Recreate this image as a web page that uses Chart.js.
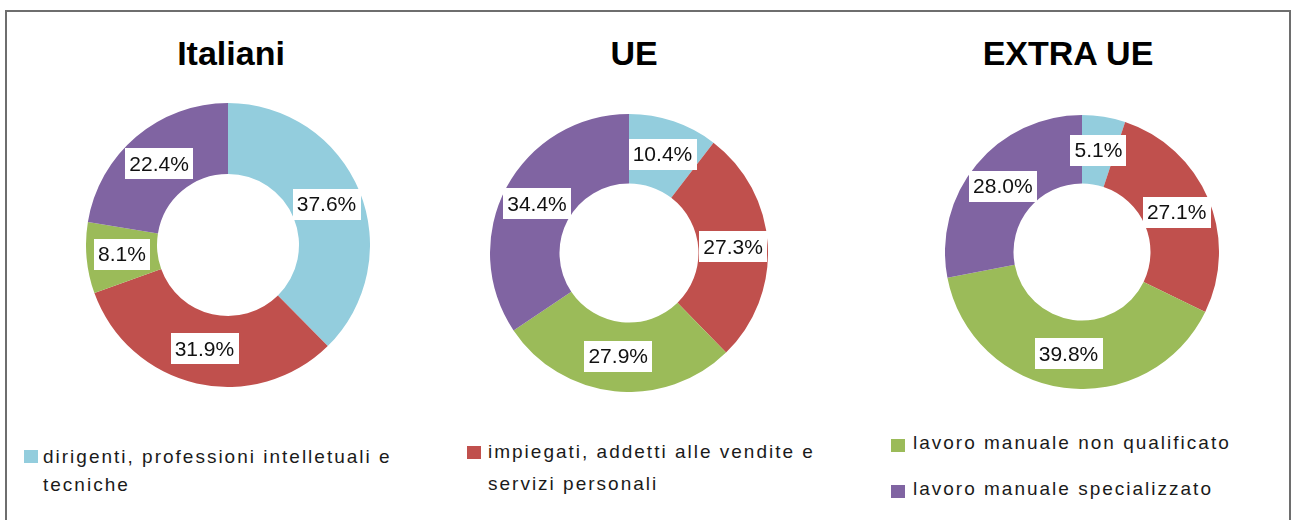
<!DOCTYPE html>
<html>
<head>
<meta charset="utf-8">
<script src="https://cdn.jsdelivr.net/npm/chart.js@4/dist/chart.umd.min.js"></script>
<style>
  html, body { margin: 0; padding: 0; background: #fff; }
  body { width: 1293px; height: 520px; position: relative; overflow: hidden; font-family: "Liberation Sans", Arial, sans-serif; }
  #frame { position: absolute; left: 5px; top: 10px; width: 1286px; height: 530px; border: 2px solid #6e6e6e; box-sizing: border-box; }
  .title { position: absolute; font-weight: bold; font-size: 34px; color: #000; transform: translateX(-50%); white-space: nowrap; line-height: 1; }
  .cv { position: absolute; }
  .leg { position: absolute; font-size: 19px; color: #1a1a1a; letter-spacing: 2px; }
  .leg .sw { position: absolute; width: 14px; height: 13px; }
  .leg .tx { position: absolute; white-space: nowrap; }
</style>
</head>
<body>
<div id="frame"></div>
<script>
// ---- data ----
const categories = [
  "dirigenti, professioni intelletuali e\ntecniche",
  "impiegati, addetti alle vendite e\nservizi personali",
  "lavoro manuale non qualificato",
  "lavoro manuale specializzato"
];
const chartTitles = ["Italiani", "UE", "EXTRA UE"];
const italiani = [37.6, 31.9, 8.1, 22.4];
const ue = [10.4, 27.3, 27.9, 34.4];
const extraUe = [5.1, 27.1, 39.8, 28.0];

// ---- styles / layout ----
const colors = ["#93CDDD", "#C0504D", "#9BBB59", "#8064A2"];
const seriesList = [italiani, ue, extraUe];
const layout = [
  { left: 86, top: 103, size: 284, titleX: 231, titleY: 43 },
  { left: 490, top: 114, size: 278, titleX: 634, titleY: 43 },
  { left: 945, top: 115, size: 274, titleX: 1068, titleY: 43 }
];

const labelPlugin = {
  id: 'boxLabels',
  afterDatasetsDraw(chart) {
    const ctx = chart.ctx;
    const meta = chart.getDatasetMeta(0);
    const data = chart.data.datasets[0].data;
    ctx.save();
    ctx.font = '21px "Liberation Sans", Arial, sans-serif';
    ctx.textAlign = 'center';
    ctx.textBaseline = 'middle';
    meta.data.forEach((arc, i) => {
      const p = arc.getProps(['x', 'y', 'startAngle', 'endAngle', 'innerRadius', 'outerRadius'], true);
      const a = (p.startAngle + p.endAngle) / 2;
      const r = (p.innerRadius + p.outerRadius) / 2;
      const x = p.x + Math.cos(a) * r;
      const y = p.y + Math.sin(a) * r;
      const txt = data[i].toFixed(1) + '%';
      const w = ctx.measureText(txt).width + 8;
      const h = 31;
      ctx.fillStyle = '#ffffff';
      ctx.fillRect(Math.round(x - w / 2), Math.round(y - h / 2), Math.round(w), h);
      ctx.fillStyle = '#111111';
      ctx.fillText(txt, x, y + 1);
    });
    ctx.restore();
  }
};

seriesList.forEach((vals, k) => {
  const L = layout[k];
  const t = document.createElement('div');
  t.className = 'title';
  t.style.left = L.titleX + 'px';
  t.style.top = (L.titleY - 7) + 'px';
  t.textContent = chartTitles[k];
  document.body.appendChild(t);

  const c = document.createElement('canvas');
  c.className = 'cv';
  c.width = L.size; c.height = L.size;
  c.style.left = L.left + 'px'; c.style.top = L.top + 'px';
  c.style.width = L.size + 'px'; c.style.height = L.size + 'px';
  document.body.appendChild(c);

  new Chart(c, {
    type: 'doughnut',
    data: {
      labels: categories,
      datasets: [{ data: vals, backgroundColor: colors, borderWidth: 0 }]
    },
    options: {
      responsive: false,
      animation: false,
      cutout: '50%',
      layout: { padding: 0 },
      plugins: { legend: { display: false }, tooltip: { enabled: false } }
    },
    plugins: [labelPlugin]
  });
});

// ---- legend ----
const legendPos = [
  { sw: [24, 450], tx: [43, 446], lh: 28 },
  { sw: [467, 446], tx: [488, 441], lh: 32 },
  { sw: [891, 439], tx: [913, 432], lh: 0 },
  { sw: [891, 485], tx: [913, 478], lh: 0 }
];
categories.forEach((cat, i) => {
  const P = legendPos[i];
  const d = document.createElement('div');
  d.className = 'leg';
  const sw = document.createElement('div');
  sw.className = 'sw';
  sw.style.left = P.sw[0] + 'px'; sw.style.top = P.sw[1] + 'px';
  sw.style.background = colors[i];
  d.appendChild(sw);
  cat.split('\n').forEach((line, j) => {
    const tx = document.createElement('div');
    tx.className = 'tx';
    tx.style.left = P.tx[0] + 'px';
    tx.style.top = (P.tx[1] + j * P.lh) + 'px';
    tx.textContent = line;
    d.appendChild(tx);
  });
  document.body.appendChild(d);
});
</script>
</body>
</html>
